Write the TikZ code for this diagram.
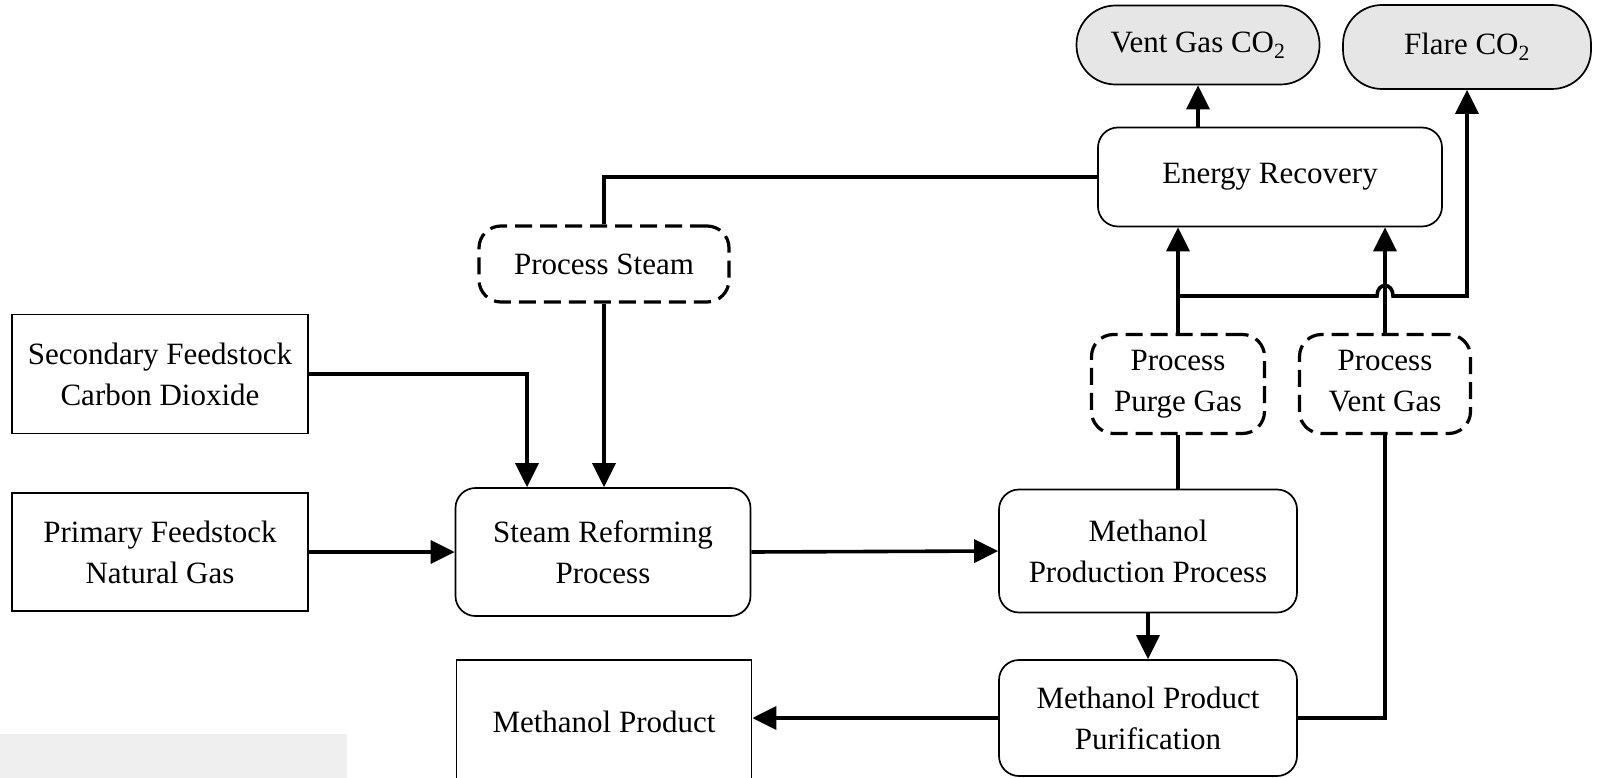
\documentclass[tikz,border=0pt]{standalone}
\usepackage{fontspec}
\setmainfont{Liberation Serif}
\usetikzlibrary{arrows.meta,calc}
\definecolor{pillgray}{HTML}{E6E6E6}
\definecolor{wmark}{HTML}{EFEFEF}
\begin{document}
\begin{tikzpicture}[x=1pt,y=-1pt,
  lbl/.style={font=\fontsize{31}{41}\selectfont, align=center, inner sep=0pt},
  sq/.style={lbl, draw, line width=1.7pt, rectangle},
  rnd/.style={lbl, draw, line width=1.7pt, rounded corners=20pt},
  dsh/.style={lbl, draw, line width=3.2pt, dash pattern=on 17pt off 8pt, rounded corners=22pt},
  pill/.style={lbl, draw, line width=1.7pt, fill=pillgray, rounded corners=39pt},
  conn/.style={line width=3.6pt},
  arr/.style={conn, -{Triangle[length=24pt,width=23pt]}},
]
\useasboundingbox (0,0) rectangle (1598,778);
\fill[white] (0,0) rectangle (1598,778);
\fill[wmark] (0,734) rectangle (347,778);

\node[pill, minimum width=243pt, minimum height=79pt] (vent) at (1198,45) {Vent Gas CO\textsubscript{2}};
\node[pill, minimum width=248pt, minimum height=84pt] (flare) at (1467,47) {Flare CO\textsubscript{2}};
\node[rnd, minimum width=344pt, minimum height=99pt] (er) at (1270,177) {Energy Recovery};
\node[dsh, minimum width=250pt, minimum height=76pt] (steam) at (604,264) {Process Steam};
\node[sq, minimum width=296pt, minimum height=119pt] (sec) at (160,374) {Secondary Feedstock\\Carbon Dioxide};
\node[sq, minimum width=296pt, minimum height=118pt] (prim) at (160,552) {Primary Feedstock\\Natural Gas};
\node[rnd, minimum width=295pt, minimum height=128pt] (sr) at (603,552) {Steam Reforming\\Process};
\node[rnd, minimum width=298pt, minimum height=123pt] (mpp) at (1148,551) {Methanol\\Production Process};
\node[dsh, minimum width=173pt, minimum height=99pt] (purge) at (1178,384) {Process\\Purge Gas};
\node[dsh, minimum width=171pt, minimum height=99pt] (pvent) at (1385,384) {Process\\Vent Gas\vphantom{g}};
\node[rnd, minimum width=298pt, minimum height=116pt] (purif) at (1148,718) {Methanol Product\\Purification};
\node[sq, minimum width=295pt, minimum height=124pt] (prod) at (604,722) {Methanol Product};

\coordinate (junc) at (1178,296);
\coordinate (h1) at (1377,296);
\coordinate (h2) at (1393,296);

\draw[arr] (er.north -| vent.south) -- (vent.south);
\draw[arr] (purge.north) -- (purge.north |- er.south);
\draw[arr] (pvent.north) -- (pvent.north |- er.south);
\draw[arr] (junc) -- (h1) .. controls (1377,282) and (1393,282) .. (h2) -| (flare.south);
\draw[conn] (er.west) -| (steam.north);
\draw[arr] (steam.south) -- (steam.south |- sr.north);
\draw[arr] (sec.east) -| ([xshift=-76pt]sr.north);
\draw[arr] (prim.east) -- (sr.west);
\draw[arr] (sr.east) -- (mpp.west);
\draw[conn] (purge.south |- mpp.north) -- (purge.south);
\draw[arr] (mpp.south) -- (purif.north);
\draw[arr] (purif.west) -- (purif.west -| prod.east);
\draw[conn] (purif.east) -| (pvent.south);
\end{tikzpicture}
\end{document}
